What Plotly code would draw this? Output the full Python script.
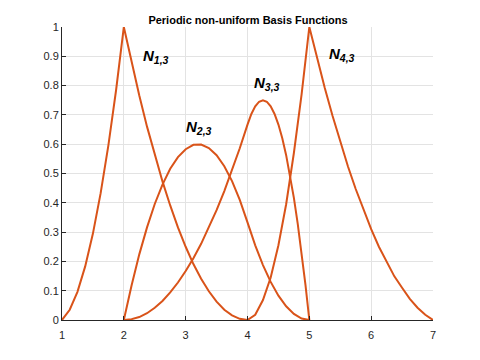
import plotly.graph_objects as go

# Basis function curves
n13_x = [1.0, 1.125, 1.25, 1.375, 1.5, 1.625, 1.75, 1.875, 2.0,
         2.125, 2.25, 2.375, 2.5, 2.625, 2.75, 2.875, 3.0,
         3.125, 3.25, 3.375, 3.5, 3.625, 3.75, 3.875, 4.0]
n13_y = [0.0, 0.035, 0.096, 0.183, 0.295, 0.433, 0.596, 0.785, 1.0,
         0.879, 0.766, 0.66, 0.5625, 0.473, 0.391, 0.316, 0.25,
         0.191, 0.141, 0.098, 0.0625, 0.035, 0.016, 0.004, 0.0]

n23_x = [2.0, 2.125, 2.25, 2.375, 2.5, 2.625, 2.75, 2.875, 3.0,
         3.125, 3.25, 3.375, 3.5, 3.625, 3.75, 3.875, 4.0,
         4.125, 4.25, 4.375, 4.5, 4.625, 4.75, 4.875, 5.0]
n23_y = [0.0, 0.118, 0.224, 0.316, 0.396, 0.462, 0.516, 0.556, 0.583,
         0.598, 0.599, 0.587, 0.5625, 0.525, 0.474, 0.41, 0.333,
         0.255, 0.1875, 0.13, 0.083, 0.047, 0.021, 0.005, 0.0]

n33_x = [2.0, 2.125, 2.25, 2.375, 2.5, 2.625, 2.75, 2.875, 3.0,
         3.125, 3.25, 3.375, 3.5, 3.625, 3.75, 3.875, 4.0,
         4.0625, 4.125, 4.1875, 4.25, 4.3125, 4.375, 4.4375, 4.5,
         4.5625, 4.625, 4.6875, 4.75, 4.8125, 4.875, 4.9375, 5.0]
n33_y = [0.0, 0.003, 0.01, 0.023, 0.042, 0.065, 0.094, 0.128, 0.167,
         0.211, 0.26, 0.315, 0.375, 0.44, 0.51, 0.586, 0.667,
         0.703, 0.729, 0.745, 0.75, 0.745, 0.729, 0.703, 0.667,
         0.62, 0.5625, 0.495, 0.417, 0.328, 0.229, 0.12, 0.0]

n43_x = [4.0, 4.125, 4.25, 4.375, 4.5, 4.625, 4.75, 4.875, 5.0,
         5.125, 5.25, 5.375, 5.5, 5.625, 5.75, 5.875, 6.0,
         6.125, 6.25, 6.375, 6.5, 6.625, 6.75, 6.875, 7.0]
n43_y = [0.0, 0.018, 0.068, 0.145, 0.255, 0.395, 0.57, 0.77, 1.0,
         0.893, 0.792, 0.697, 0.6075, 0.524, 0.447, 0.375, 0.31,
         0.25, 0.197, 0.149, 0.11, 0.072, 0.042, 0.018, 0.0]

# label text and anchor positions (data coords)
labels = ['N<sub>1,3</sub>', 'N<sub>2,3</sub>', 'N<sub>3,3</sub>', 'N<sub>4,3</sub>']
label_x = [2.27, 2.98, 4.08, 5.28]
label_y = [0.94, 0.695, 0.845, 0.945]

curves = [(n13_x, n13_y), (n23_x, n23_y), (n33_x, n33_y), (n43_x, n43_y)]
line_color = '#D95319'
axis_color = '#262626'
font_family = 'Liberation Sans, Arial, sans-serif'

fig = go.Figure()

for xs, ys in curves:
    fig.add_trace(go.Scatter(
        x=xs, y=ys,
        mode='lines',
        line=dict(color=line_color, width=2),
        cliponaxis=False,
        showlegend=False,
        hoverinfo='skip'
    ))

for text, lx, ly in zip(labels, label_x, label_y):
    fig.add_annotation(
        text=f'<b><i>{text}</i></b>',
        x=lx, y=ly,
        xref='x', yref='y',
        xanchor='left', yanchor='top',
        showarrow=False,
        font=dict(size=15, color='black', family=font_family)
    )

# page body adds an 8px offset, so margins are shifted to compensate
fig.update_layout(
    width=480,
    height=360,
    margin=dict(l=54, r=55, t=19, b=48),
    paper_bgcolor='white',
    plot_bgcolor='white',
    font=dict(family=font_family, size=11, color=axis_color),
    title=dict(
        text='<b>Periodic non-uniform Basis Functions</b>',
        x=0.5, xanchor='center',
        y=0.967, yanchor='middle',
        font=dict(size=11, color='black', family=font_family)
    ),
    showlegend=False
)

fig.update_xaxes(
    range=[1, 7],
    dtick=1,
    tick0=1,
    showgrid=True,
    gridcolor='#e3e3e3',
    gridwidth=1,
    zeroline=False,
    showline=True,
    linecolor=axis_color,
    linewidth=1,
    ticks='inside',
    ticklen=4,
    tickcolor=axis_color,
    ticklabelstandoff=5,
    tickfont=dict(size=11, color=axis_color)
)

fig.update_yaxes(
    range=[0, 1],
    dtick=0.1,
    tick0=0,
    showgrid=True,
    gridcolor='#e3e3e3',
    gridwidth=1,
    zeroline=False,
    showline=True,
    linecolor=axis_color,
    linewidth=1,
    ticks='inside',
    ticklen=4,
    tickcolor=axis_color,
    tickfont=dict(size=11, color=axis_color)
)

fig.write_html("out.html")
